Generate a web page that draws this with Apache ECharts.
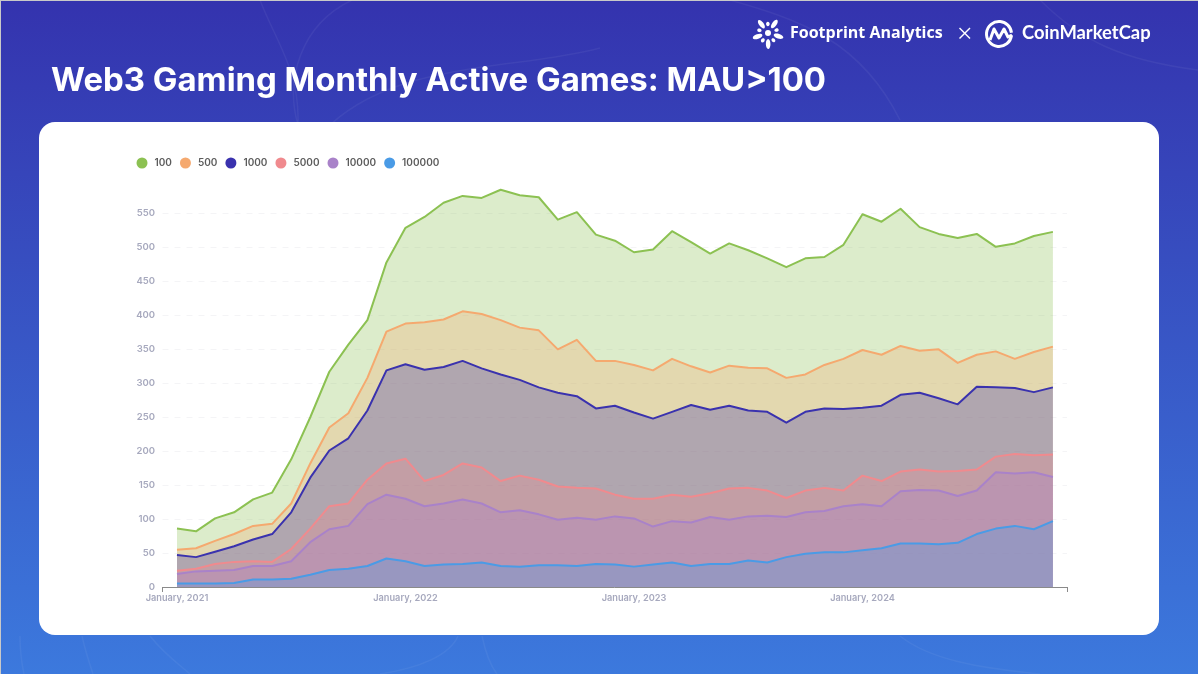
<!DOCTYPE html>
<html>
<head>
<meta charset="utf-8">
<style>
  html, body { margin: 0; padding: 0; background: #c9c9c9; }
  #chart { width: 1198px; height: 674px; }
</style>
<script src="https://cdn.jsdelivr.net/npm/echarts@6/dist/echarts.min.js"></script>
</head>
<body>
<div id="chart"></div>
<script>
// month index on the x axis, 0 = January 2021, 46 = November 2024
const tickMonths = [0, 12, 24, 36];
const tickLabels = ['January, 2021', 'January, 2022', 'January, 2023', 'January, 2024'];
const seriesNames = ['100', '500', '1000', '5000', '10000', '100000'];
const seriesColors = ['#8CC152', '#F5A96F', '#3A32AE', '#F08A8E', '#A982C9', '#4A9BE6'];

const mau100 = [86, 82, 101, 110, 129, 139, 188, 250, 317, 357, 393, 478, 529, 545, 566, 576, 573, 585, 577, 574, 541, 552, 519, 510, 493, 497, 524, 508, 491, 506, 496, 484, 471, 484, 486, 504, 549, 538, 557, 530, 520, 514, 520, 501, 506, 517, 523];
const mau500 = [55, 57, 68, 78, 90, 93, 123, 182, 235, 256, 308, 376, 388, 390, 394, 406, 402, 393, 382, 378, 350, 364, 333, 333, 327, 319, 336, 325, 316, 326, 323, 322, 308, 313, 327, 336, 349, 342, 355, 348, 350, 330, 342, 347, 336, 346, 354];
const mau1000 = [47, 44, 52, 60, 70, 78, 110, 161, 201, 219, 260, 319, 328, 320, 324, 333, 322, 313, 305, 294, 286, 281, 263, 267, 257, 248, 258, 268, 261, 267, 260, 258, 242, 258, 263, 262, 264, 267, 283, 286, 278, 269, 295, 294, 293, 287, 294];
const mau5000 = [24, 27, 34, 37, 38, 37, 56, 86, 119, 123, 158, 182, 189, 156, 165, 182, 176, 156, 164, 158, 148, 146, 145, 136, 130, 130, 136, 133, 138, 145, 146, 142, 131, 142, 146, 142, 164, 156, 170, 173, 170, 171, 173, 192, 196, 194, 195];
const mau10000 = [19, 23, 24, 25, 31, 31, 38, 66, 85, 90, 122, 136, 130, 119, 123, 129, 123, 110, 113, 107, 99, 102, 99, 104, 101, 89, 97, 95, 103, 99, 104, 105, 103, 110, 112, 119, 122, 119, 141, 143, 142, 134, 142, 169, 167, 169, 162];
const mau100000 = [5, 5, 5, 6, 11, 11, 12, 18, 25, 27, 31, 42, 38, 31, 33, 34, 36, 31, 30, 32, 32, 31, 34, 33, 30, 33, 36, 31, 34, 34, 39, 36, 44, 49, 51, 51, 54, 57, 64, 64, 63, 65, 78, 86, 90, 85, 97];
const seriesValues = [mau100, mau500, mau1000, mau5000, mau10000, mau100000];

const FONT = 'Inter, "Liberation Sans", sans-serif';
const xMin = -0.76;
const xMax = 46.74;

const chart = echarts.init(document.getElementById('chart'), null, { renderer: 'canvas' });

// faint curves in the page background
const bgCurves = [
  [[260, 0], [275, 40], [300, 70], [298, 125]],
  [[352, 0], [300, 25], [285, 80], [298, 125]],
  [[600, 48], [520, 70], [400, 60], [330, 125]],
  [[730, 0], [800, 20], [860, 40], [900, 120]],
  [[1040, 0], [1080, 40], [1120, 60], [1198, 70]],
  [[82, 636], [85, 650], [90, 665], [93, 674]],
  [[150, 636], [165, 655], [180, 665], [190, 674]],
  [[458, 636], [450, 655], [420, 668], [380, 674]],
  [[482, 636], [485, 650], [490, 665], [497, 674]],
  [[20, 636], [20, 650], [22, 665], [24, 674]],
  [[900, 636], [930, 660], [980, 668], [1040, 674]]
].map(p => ({
  type: 'bezierCurve',
  z: -9,
  shape: { x1: p[0][0], y1: p[0][1], cpx1: p[1][0], cpy1: p[1][1], cpx2: p[2][0], cpy2: p[2][1], x2: p[3][0], y2: p[3][1] },
  style: { stroke: 'rgba(255,255,255,0.05)', lineWidth: 1.5, fill: null }
}));

// footprint logo, a burst of petals round a dot
const petals = [];
for (let a = 0; a < 10; a++) {
  const ang = a * Math.PI / 5 + 0.3;
  const long = a % 2 === 0;
  const d = long ? 11 : 9;
  petals.push({
    type: 'ellipse',
    shape: { cx: 768 + Math.cos(ang) * d, cy: 33 + Math.sin(ang) * d, rx: long ? 5 : 2.2, ry: long ? 2.3 : 1.8 },
    rotation: -ang,
    originX: 768 + Math.cos(ang) * d,
    originY: 33 + Math.sin(ang) * d,
    style: { fill: '#fff' }
  });
}
petals.push({ type: 'circle', shape: { cx: 768, cy: 33, r: 3 }, style: { fill: '#fff' } });

const option = {
  animation: false,
  title: {
    text: 'Web3 Gaming Monthly Active Games: MAU>100',
    left: 46,
    top: 60,
    textStyle: { color: '#fff', fontFamily: FONT, fontSize: 32.9, fontWeight: 700 }
  },
  legend: {
    data: seriesNames,
    left: 131.5,
    top: 152.5,
    icon: 'circle',
    itemWidth: 11,
    itemHeight: 11,
    itemGap: 8,
    itemStyle: { opacity: 1 },
    textStyle: { color: '#5c5c5c', fontFamily: FONT, fontSize: 10, fontWeight: 600, padding: [0, 0, 0, 2] }
  },
  grid: { left: 162.5, width: 904.5, top: 179.6, height: 407.4 },
  xAxis: {
    type: 'value',
    min: xMin,
    max: xMax,
    splitLine: { show: false },
    axisLine: { show: true, lineStyle: { color: '#8a8a8a', width: 1 } },
    axisTick: { show: true, length: 5, customValues: [xMin, xMax], lineStyle: { color: '#8a8a8a' } },
    axisLabel: {
      customValues: tickMonths,
      formatter: v => tickLabels[tickMonths.indexOf(v)],
      color: '#A7A9BE',
      fontFamily: FONT,
      fontSize: 9.2,
      fontWeight: 600,
      margin: 7
    }
  },
  yAxis: {
    type: 'value',
    min: 0,
    max: 600,
    interval: 50,
    axisLine: { show: false },
    axisTick: { show: false },
    splitLine: { showMaxLine: false, lineStyle: { color: '#f4f4f6', type: [6, 6], width: 1 } },
    axisLabel: {
      showMaxLabel: false,
      color: '#A7A9BE',
      fontFamily: FONT,
      fontSize: 9.5,
      fontWeight: 600,
      margin: 7.5
    }
  },
  series: seriesNames.map((name, s) => ({
    name: name,
    type: 'line',
    data: seriesValues[s].map((v, i) => [i, v]),
    color: seriesColors[s],
    symbol: 'none',
    lineStyle: { width: 2, join: 'round' },
    areaStyle: { opacity: 0.3 }
  })),
  graphic: [
    {
      type: 'rect',
      z: -10,
      shape: { x: 1, y: 1, width: 1197, height: 673 },
      style: {
        fill: new echarts.graphic.LinearGradient(0, 0, 0, 1, [
          { offset: 0, color: '#3433AE' },
          { offset: 1, color: '#3C79DD' }
        ])
      }
    },
    ...bgCurves,
    {
      type: 'rect',
      z: -8,
      shape: { x: 39, y: 122, width: 1120, height: 513, r: 16 },
      style: { fill: '#fff' }
    },
    ...petals,
    {
      type: 'text', x: 790, y: 25,
      style: { text: 'Footprint Analytics', fill: '#fff', font: '700 16px "Open Sans", sans-serif' }
    },
    { type: 'line', shape: { x1: 959.5, y1: 28, x2: 970, y2: 38.5 }, style: { stroke: '#fff', lineWidth: 1.4 } },
    { type: 'line', shape: { x1: 970, y1: 28, x2: 959.5, y2: 38.5 }, style: { stroke: '#fff', lineWidth: 1.4 } },
    {
      type: 'arc',
      shape: { cx: 999, cy: 34, r: 12.5, startAngle: 0.1, endAngle: Math.PI * 2 - 0.1, clockwise: true },
      style: { stroke: '#fff', lineWidth: 3, fill: null }
    },
    {
      type: 'polyline',
      shape: { points: [[990, 40], [994, 29], [999, 38], [1004, 29], [1008, 37], [1012, 35]] },
      style: { stroke: '#fff', lineWidth: 3, fill: null, lineJoin: 'round' }
    },
    {
      type: 'text', x: 1022, y: 24,
      style: { text: 'CoinMarketCap', fill: '#fff', font: '700 18.4px Lato, sans-serif' }
    }
  ]
};

chart.setOption(option);
</script>
</body>
</html>
